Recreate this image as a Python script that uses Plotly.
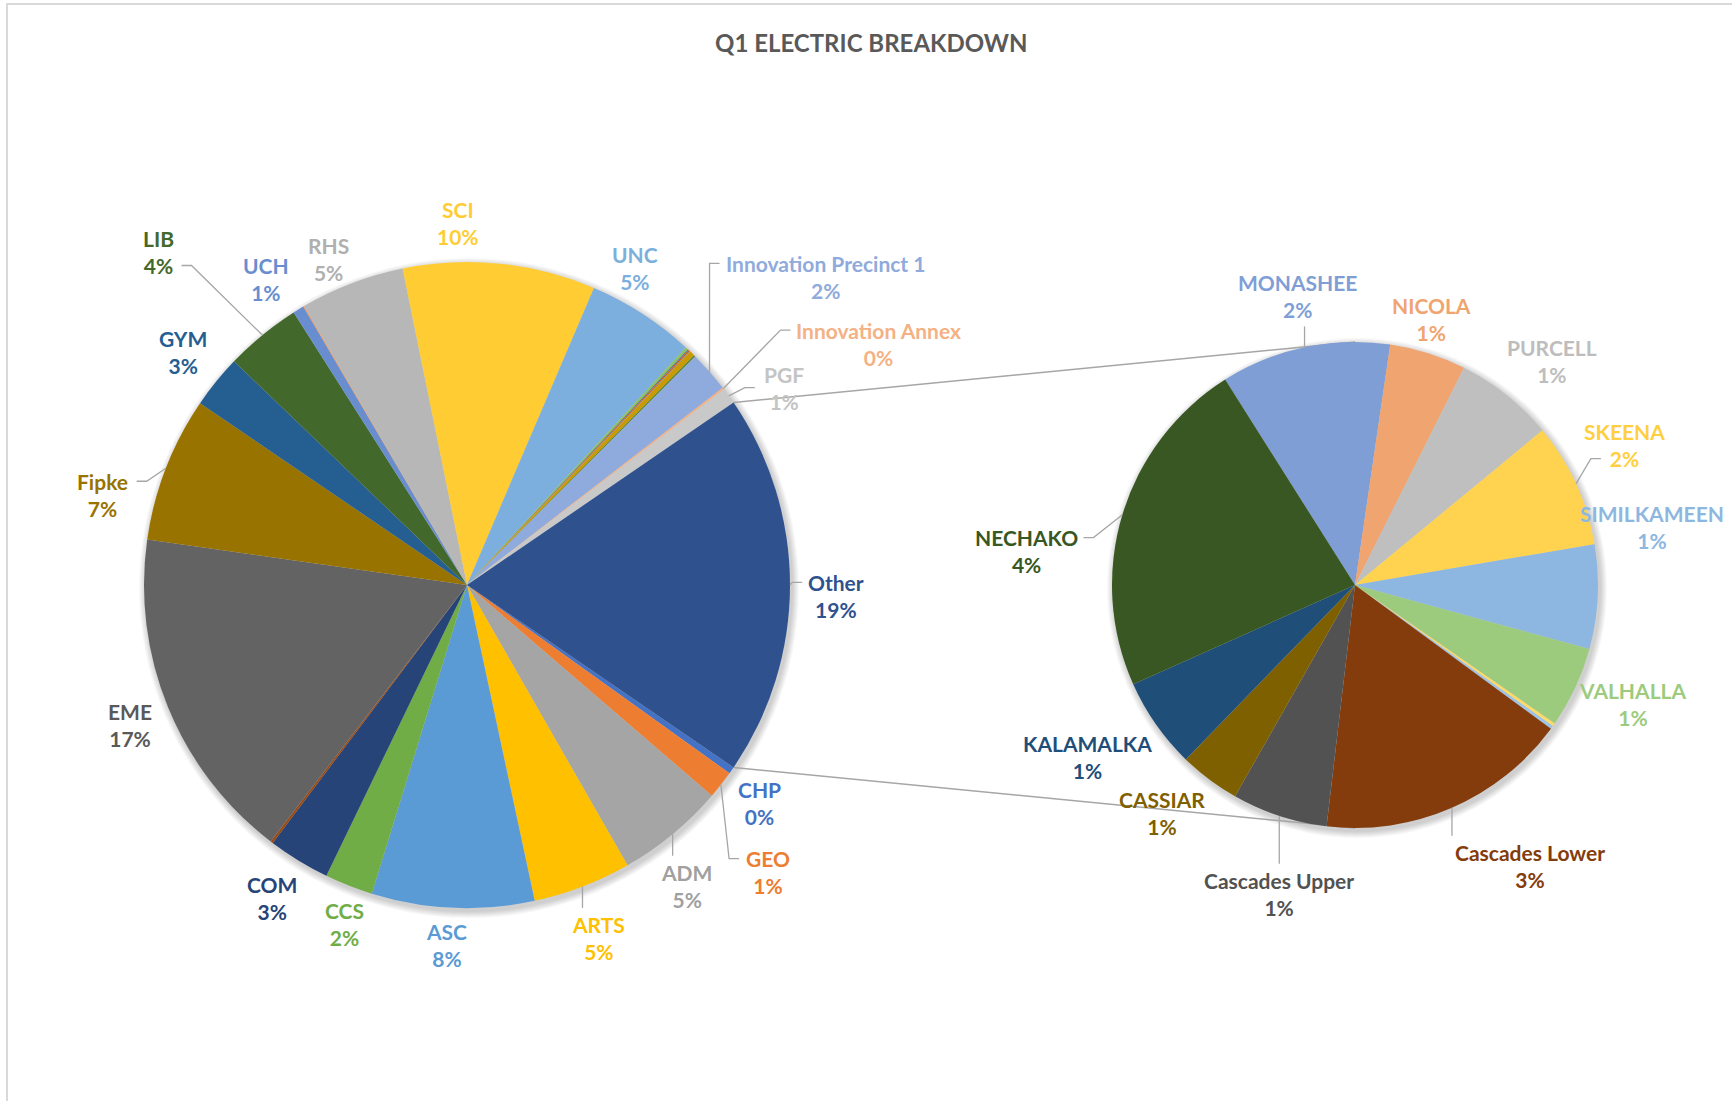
import math
import plotly.graph_objects as go

W, H = 1732, 1101

# ---- data: share of Q1 electricity use (%) ----
main_labels = ["CHP", "GEO", "ADM", "ARTS", "ASC", "CCS", "COM", "Minor 1", "EME", "Fipke",
               "GYM", "LIB", "UCH", "Minor 2", "RHS", "SCI", "UNC", "Minor 3", "Minor 4",
               "Minor 5", "Minor 6", "Minor 7", "Minor 8", "Innovation Precinct 1",
               "Innovation Annex", "PGF"]
main_values = [0.35, 1.4, 5.4, 4.9, 8.1, 2.4, 3.1, 0.12, 16.8, 7.25,
               2.65, 3.8, 0.55, 0.05, 5.2, 9.6, 5.4, 0.15, 0.04,
               0.06, 0.05, 0.25, 0.09, 2.05,
               0.1, 0.8]

sub_labels = ["MONASHEE", "NICOLA", "PURCELL", "SKEENA", "SIMILKAMEEN", "VALHALLA",
              "Minor 9", "Minor 10", "Cascades Lower", "Cascades Upper", "CASSIAR",
              "KALAMALKA", "NECHAKO"]
sub_values = [2.15, 0.97, 1.26, 1.58, 1.32, 1.03,
              0.04, 0.04, 3.2, 1.21, 0.77,
              1.15, 4.33]

other_label = "Other"

# ---- styling ----
main_colors = ["#4472C4", "#ED7D31", "#A5A5A5", "#FFC000", "#5B9BD5", "#70AD47", "#264478",
               "#9E480E", "#636363", "#997300", "#255E91", "#43682B", "#698ED0", "#F1975A",
               "#B7B7B7", "#FFCD33", "#7CAFDD", "#8CC168", "#335AA1", "#D26012", "#848484",
               "#CC9A00", "#5A8A39", "#8FAADC", "#F4B183", "#C9C9C9"]
other_color = "#2F528F"
sub_colors = ["#7F9ED6", "#F0A46F", "#BFBFBF", "#FFD34F", "#8DB7E1", "#9DCB7D",
              "#FFD966", "#9DC3E6", "#843C0C", "#525252", "#7F6000", "#1F4E79", "#385723"]

label_colors = {"EME": "#595959", "RHS": "#B0B0B0", "ADM": "#A0A0A0", "PGF": "#C4C4C4",
                "PURCELL": "#BDBDBD", "SKEENA": "#FFCF3F"}

# label placement: (angle offset from slice middle in deg, radius factor, leader style,
#                   leader attach line: "t" name line, "b" percent line, "m" middle)
main_label_style = {
    "SCI": (-7.3, 1.121, None, None), "UNC": (-4.9, 1.111, None, None),
    "Innovation Precinct 1": (0.7, 1.464, "h", "t"), "Innovation Annex": (7.1, 1.478, "h", "t"),
    "PGF": (3.9, 1.155, "h", "m"), "Other": (1.7, 1.143, "h", "t"), "CHP": (1.7, 1.128, None, None),
    "GEO": (5.5, 1.288, "h", "t"), "ADM": (3.4, 1.154, "v", None), "ARTS": (0.5, 1.167, "v", None),
    "ASC": (0.8, 1.116, None, None), "CCS": (-1.6, 1.115, None, None), "COM": (0.5, 1.140, None, None),
    "EME": (-0.3, 1.131, None, None), "Fipke": (-7.3, 1.163, "h", "t"), "GYM": (0.3, 1.138, None, None),
    "LIB": (-3.5, 1.406, "h", "b"), "UCH": (-1.8, 1.133, None, None), "RHS": (-2.2, 1.096, None, None),
}
sub_label_style = {
    "MONASHEE": (0.8, 1.212, "v", None), "NICOLA": (-1.4, 1.140, None, None),
    "PURCELL": (2.7, 1.228, None, None), "SKEENA": (-2.9, 1.248, "h", "b"),
    "SIMILKAMEEN": (-13.8, 1.245, None, None), "VALHALLA": (-1.8, 1.244, None, None),
    "Cascades Lower": (-8.4, 1.362, "v", None), "Cascades Upper": (-4.4, 1.309, "v", None),
    "CASSIAR": (3.3, 1.229, None, None), "KALAMALKA": (2.3, 1.310, None, None),
    "NECHAKO": (-10.9, 1.357, "h", "t"),
}

FONT = "Lato, 'Open Sans', sans-serif"
LABEL_SIZE = 21
LINE_H = LABEL_SIZE * 1.3
LINE_COLOR = "#A6A6A6"
LEADER_GAP = 8

# pie geometry in pixels
main_c, main_r = (467, 585), 323
sub_c, sub_r = (1355, 585), 243
sub_rotation = -32.3

other_value = sum(sub_values)
grand_total = sum(main_values) + other_value
main_rotation = 90 + 180 * other_value / grand_total


def domain(c, r):
    return dict(x=[(c[0] - r) / W, (c[0] + r) / W],
                y=[1 - (c[1] + r) / H, 1 - (c[1] - r) / H])


def px(c, r, ang):
    a = math.radians(ang)
    return c[0] + r * math.sin(a), c[1] - r * math.cos(a)


def pp(x, y):
    return x / W, 1 - y / H


def pct(v):
    return "%d%%" % math.floor(v / grand_total * 100 + 0.5)


CW = {" ": 0.26, "%": 0.86, "I": 0.29, "i": 0.26, "l": 0.26, "t": 0.36, "r": 0.38, "f": 0.33,
      "s": 0.42, "c": 0.46, "W": 0.98, "M": 0.86, "m": 0.83}


def text_w(s):
    w = 0
    for ch in s:
        if ch in CW:
            w += CW[ch]
        elif ch.isupper():
            w += 0.66
        elif ch.isdigit():
            w += 0.58
        else:
            w += 0.53
    return w * LABEL_SIZE


fig = go.Figure()
fig.add_trace(go.Pie(
    labels=main_labels + [other_label], values=main_values + [other_value],
    marker=dict(colors=main_colors + [other_color], line=dict(width=0)),
    sort=False, direction="clockwise", rotation=main_rotation,
    textinfo="none", hoverinfo="label+value", showlegend=False,
    domain=domain(main_c, main_r),
))
fig.add_trace(go.Pie(
    labels=sub_labels, values=sub_values,
    marker=dict(colors=sub_colors, line=dict(width=0)),
    sort=False, direction="clockwise", rotation=sub_rotation,
    textinfo="none", hoverinfo="label+value", showlegend=False,
    domain=domain(sub_c, sub_r),
))

shapes, annotations = [], []

# soft drop shadow behind each pie
for c, r in ((main_c, main_r), (sub_c, sub_r)):
    for d in range(1, 8):
        x0, y0 = pp(c[0] - r - d + 2, c[1] + r + d + 3)
        x1, y1 = pp(c[0] + r + d + 2, c[1] - r - d + 3)
        shapes.append(dict(type="circle", xref="paper", yref="paper", x0=x0, y0=y0, x1=x1, y1=y1,
                           fillcolor="rgba(0,0,0,0.028)", line=dict(width=0), layer="below"))

# connector lines from the "Other" slice to the breakdown pie
other_start = main_rotation + 360 * sum(main_values) / grand_total
other_end = other_start + 360 * other_value / grand_total
for ang, target in ((other_start, (sub_c[0], sub_c[1] - sub_r)), (other_end, (sub_c[0], sub_c[1] + sub_r))):
    sx, sy = px(main_c, main_r, ang)
    x0, y0 = pp(sx, sy)
    x1, y1 = pp(*target)
    shapes.append(dict(type="line", xref="paper", yref="paper", x0=x0, y0=y0, x1=x1, y1=y1,
                       line=dict(color=LINE_COLOR, width=1.5), layer="below"))


def add_labels(labels, values, colors, c, r, rotation, style):
    total = sum(values)
    ang = rotation
    for lab, v, col in zip(labels, values, colors):
        step = 360.0 * v / total
        mid = ang + step / 2
        ang += step
        if lab not in style:
            continue
        dth, k, mode, attach = style[lab]
        lx, ly = px(c, r * k, mid + dth)
        color = label_colors.get(lab, col)
        ax, ay = pp(lx, ly)
        annotations.append(dict(
            x=ax, y=ay, xref="paper", yref="paper", xanchor="center", yanchor="middle",
            text="<b>%s</b><br><b>%s</b>" % (lab, pct(v)), showarrow=False, align="center",
            font=dict(family=FONT, size=LABEL_SIZE, color=color)))
        if mode is None:
            continue
        sx, sy = px(c, r, mid)
        if mode == "h":
            if attach == "t":
                ty, hw = ly - LINE_H / 2, text_w(lab) / 2
            elif attach == "b":
                ty, hw = ly + LINE_H / 2, text_w(pct(v)) / 2
            else:
                ty, hw = ly, max(text_w(lab), text_w(pct(v))) / 2
            side = 1 if lx > sx else -1
            ex = lx - side * (hw + LEADER_GAP)
            mx = ex - side * 10
            pts = [(sx, sy), (mx, ty), (ex, ty)]
        else:
            ey = ly - LINE_H - 3 if ly > sy else ly + LINE_H + 3
            pts = [(sx, sy), (sx, ey)]
        path = "M " + " L ".join("%.5f,%.5f" % pp(x, y) for x, y in pts)
        shapes.append(dict(type="path", xref="paper", yref="paper", path=path,
                           line=dict(color=LINE_COLOR, width=1.3), layer="above"))


add_labels(main_labels + [other_label], main_values + [other_value],
           main_colors + [other_color],
           main_c, main_r, main_rotation, main_label_style)
add_labels(sub_labels, sub_values, sub_colors, sub_c, sub_r, sub_rotation, sub_label_style)

# chart title
tx, ty = pp(871, 42)
annotations.append(dict(x=tx, y=ty, xref="paper", yref="paper", xanchor="center", yanchor="middle",
                        text="<b>Q1 ELECTRIC BREAKDOWN</b>", showarrow=False,
                        font=dict(family=FONT, size=24, color="#595959")))

# chart area border
bx0, by0 = pp(7, H + 10)
bx1, by1 = pp(W + 10, 4)
shapes.append(dict(type="rect", xref="paper", yref="paper", x0=bx0, y0=by0, x1=bx1, y1=by1,
                   line=dict(color="#D9D9D9", width=2), fillcolor="rgba(0,0,0,0)", layer="above"))

fig.update_layout(
    width=W, height=H, autosize=False,
    margin=dict(l=0, r=0, t=0, b=0),
    paper_bgcolor="white", plot_bgcolor="white",
    shapes=shapes, annotations=annotations,
)

fig.write_html("out.html")
